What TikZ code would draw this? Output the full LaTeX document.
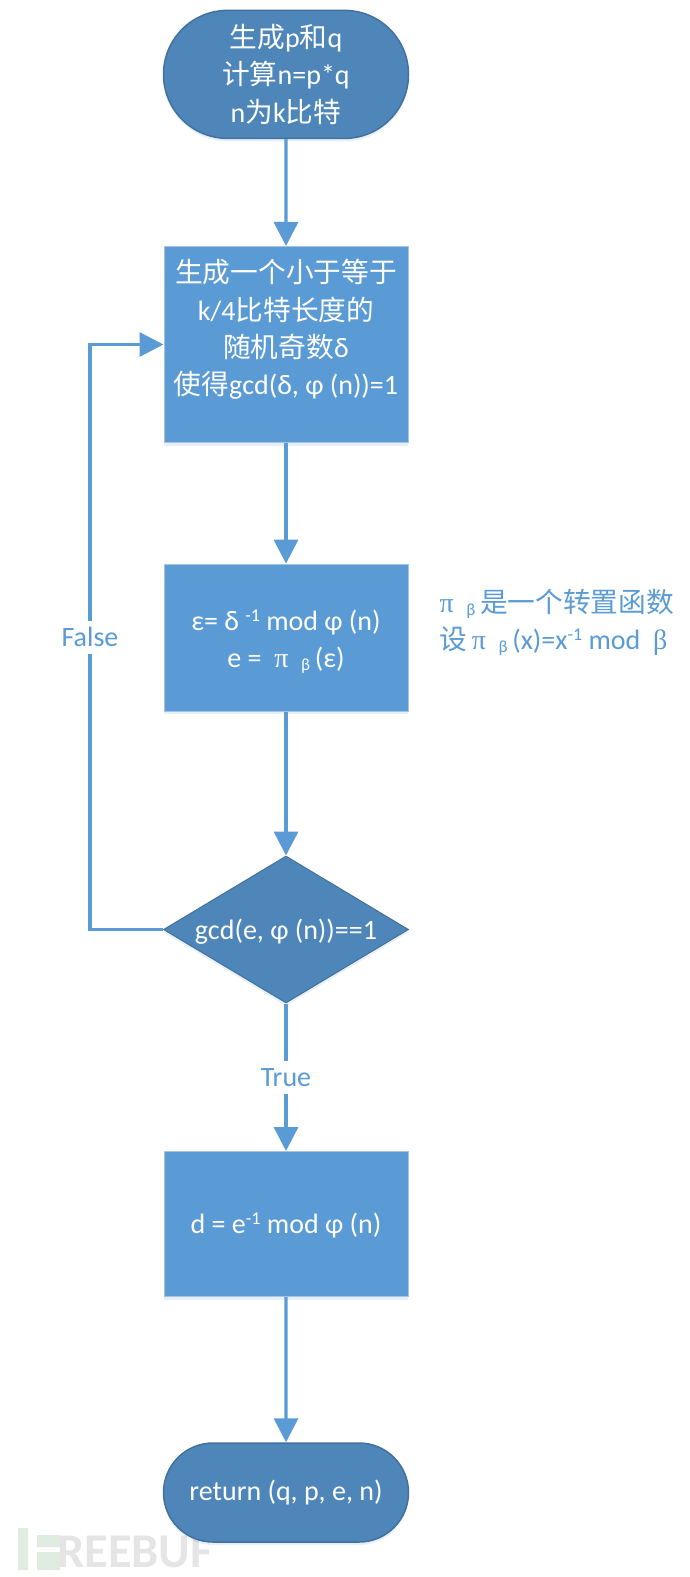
\documentclass[tikz,border=0pt]{standalone}
\usepackage{fontspec}
\setmainfont{Carlito}
\newfontfamily\cjk{Noto Sans CJK SC}
\newfontfamily\thin{Liberation Serif}
\usepackage{tikz}
\usetikzlibrary{arrows.meta,shapes.geometric,shapes.misc,shadows}
\definecolor{flowblue}{HTML}{5B9BD5}
\definecolor{flowdark}{HTML}{4E86BA}
\definecolor{flowedge}{HTML}{41719C}
\definecolor{flowrim}{HTML}{A6C3E3}
\newcommand{\zh}[1]{{\cjk\fontsize{27.7bp}{37bp}\selectfont #1}}
\newcommand{\sbeta}{\raisebox{-3bp}{\fontsize{17bp}{17bp}\selectfont β}}
\newcommand{\spi}{{\thin π}}
\newcommand{\supm}{\raisebox{9bp}{\fontsize{18bp}{18bp}\selectfont -1}}
\tikzset{
  basefont/.style={font=\fontsize{28bp}{37.2bp}\selectfont},
  shade/.style={drop shadow={shadow xshift=0bp,shadow yshift=-3bp,opacity=.15,fill=flowblue}},
  procbox/.style={rectangle,draw=flowrim,line width=1bp,fill=flowblue,minimum width=244bp,inner sep=0pt,shade},
  proctext/.style={basefont,text=white,align=center,inner sep=0pt},
  termbox/.style={rounded rectangle,basefont,draw=flowedge,line width=1.5bp,fill=flowdark,text=white,minimum width=245bp,align=center,inner sep=0pt,shade},
  decbox/.style={diamond,draw=flowedge,line width=1bp,fill=flowdark,minimum width=245bp,minimum height=147bp,aspect=1.667,inner sep=0pt,shade},
  flowline/.style={line width=3.4bp,flowblue,-{Triangle[length=24bp,width=24bp]}},
  linelabel/.style={basefont,fill=white,text=flowblue,inner xsep=1bp,inner ysep=0pt,minimum height=33bp},
}
\begin{document}
\begin{tikzpicture}[x=1bp,y=-1bp]
  \useasboundingbox (0,0) rectangle (690,1577);
  % watermark
  \fill[green!40!black,opacity=.12] (18,1528) rectangle (28,1570) (37,1535) rectangle (60,1547) (37,1552) rectangle (60,1570);
  \node (mark) at (135,1552) [anchor=center,text=black!10,font=\fontsize{48.5bp}{50bp}\selectfont\bfseries] {REEBUF};
  % shapes
  \node (start) at (286,74.4) [termbox,minimum height=128bp] {\zh{生成}p\zh{和}q\\\zh{计算}n=p*q\\n\zh{为}k\zh{比特}};
  \node (gen) at (286,344.5) [procbox,minimum height=196bp] {};
  \node (gentext) at (286,329.5) [proctext] {\zh{生成一个小于等于}\\k/4\zh{比特长度的}\\\zh{随机奇数}δ\\\zh{使得}gcd(δ, φ (n))=1};
  \node (calc) at (286,637.6) [procbox,minimum height=147bp] {};
  \node (calctext) at (286,642) [proctext] {ε= δ \supm\ mod φ (n)\\e =\ \ \spi\ \ \sbeta\,(ε)};
  \node (check) at (286,929.5) [decbox] {};
  \node (checktext) at (286,932) [proctext] {gcd(e, φ (n))==1};
  \node (priv) at (286,1224) [procbox,minimum height=145bp] {};
  \node (privtext) at (286,1225) [proctext] {d = e\supm\ mod φ (n)};
  \node (stop) at (286,1492.5) [termbox,minimum height=99bp] {return (q, p, e, n)};
  \node (note) at (436,622) [anchor=west,basefont,text=flowblue,align=left] {\spi\ \ \sbeta\,\zh{是一个转置函数}\\\zh{设}\,\spi\ \ \sbeta\,(x)=x\supm\ mod\ \ {\thin β}};
  % connectors
  \coordinate (loopb) at (90,929.5);
  \coordinate (loopt) at (90,344.5);
  \draw[flowline] (start) -- (gen);
  \draw[flowline] (gen) -- (calc);
  \draw[flowline] (calc) -- (check);
  \draw[flowline] (check) -- node[linelabel,pos=.5] (truelabel) {True} (priv);
  \draw[flowline] (priv) -- (stop);
  \draw[flowline] (check.west) -- (loopb) -- node[linelabel,pos=.5] (falselabel) {False} (loopt) -- (gen.west);
\end{tikzpicture}
\end{document}
